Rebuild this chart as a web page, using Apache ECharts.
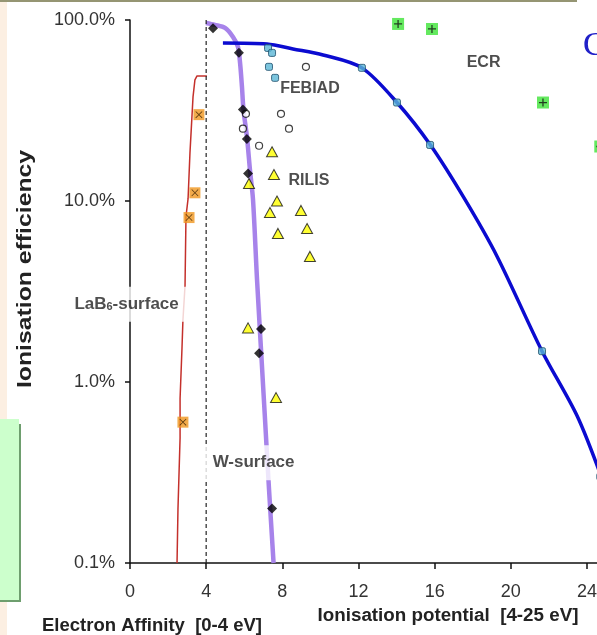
<!DOCTYPE html>
<html>
<head>
<meta charset="utf-8">
<script src="https://cdn.jsdelivr.net/npm/echarts@6/dist/echarts.min.js"></script>
<style>
html, body { margin: 0; padding: 0; background: #fff; overflow: hidden; width: 597px; height: 635px; }
#main { width: 640px; height: 635px; }
</style>
</head>
<body>
<div id="main"></div>
<script>
// ionisation efficiency (log) vs electron affinity / ionisation potential [eV]
const xTicks = [0, 4, 8, 12, 16, 20, 24];
const yTicks = [0.1, 1, 10, 100];

// curves
const lab6Curve = [[4.04, 49.1], [3.52, 49.1], [3.41, 46.7], [3.31, 37.6], [3.15, 18.5], [3.05, 10.3],
  [2.94, 8.2], [2.89, 3.4], [2.78, 2.2], [2.73, 1.53], [2.63, 0.81], [2.63, 0.49], [2.52, 0.2], [2.47, 0.1]];
const wCurve = [[3.99, 96.3], [4.46, 93.9], [4.99, 90.4], [5.41, 80.6], [5.67, 71.0], [5.78, 58.0],
  [5.88, 42.8], [5.96, 31.9], [6.14, 22.7], [6.30, 14.9], [6.46, 10.2], [6.67, 3.7], [6.88, 1.52],
  [7.09, 0.625], [7.30, 0.257], [7.54, 0.1]];
const febiadCurve = [[4.88, 74.7], [7.20, 73.7], [8.56, 69.2], [10.14, 64.1], [12.18, 54.4], [14.02, 35.0],
  [15.76, 20.5], [17.59, 10.2], [19.28, 4.94], [21.64, 1.48], [23.48, 0.65], [24.75, 0.30]];
const dividerLine = [[4, 0.1], [4, 100]];

// measured points
const lab6Points = [[3.62, 30.0], [3.41, 11.1], [3.10, 8.1], [2.78, 0.60]];
const wPoints = [[4.36, 90], [5.72, 66], [5.93, 32], [6.14, 22], [6.20, 14.2], [6.88, 1.96], [6.78, 1.44], [7.46, 0.2]];
const febiadPoints = [[7.25, 70.1], [7.46, 65.8], [7.30, 55.1], [7.62, 47.9], [12.18, 54.4], [14.02, 35.0],
  [15.76, 20.4], [21.64, 1.48], [24.7, 0.30]];
const febiadOpen = [[9.24, 55.1], [6.09, 30.3], [7.93, 30.3], [5.93, 25.1], [8.35, 25.1], [6.78, 20.2]];
const rilisPoints = [[7.46, 18.7], [7.56, 14.0], [6.25, 12.5], [7.72, 10.0], [7.35, 8.64], [8.98, 8.87],
  [7.77, 6.62], [9.30, 7.05], [9.45, 4.94], [6.20, 1.99], [7.67, 0.82]];
const ecrPoints = [[14.08, 95.1], [15.86, 89.2], [21.69, 35.0], [24.7, 20.0]];

// in-plot labels
const boxLabels = ['LaB{sub|6}-surface', 'W-surface'];
const boxLabelAt = [[-0.18, 2.69], [6.49, 0.358]];
const plainLabels = ['FEBIAD', 'RILIS', 'ECR'];
const plainLabelAt = [[9.45, 41.7], [9.40, 13.0], [18.57, 57.9]];

const font = '"Liberation Sans", Arial, sans-serif';
const crossPath = 'path://M0,0.8L0.8,0L5,4.2L9.2,0L10,0.8L5.8,5L10,9.2L9.2,10L5,5.8L0.8,10L0,9.2L4.2,5Z';
const plusPath = 'path://M4.2,0H5.8V4.2H10V5.8H5.8V10H4.2V5.8H0V4.2H4.2Z';

const chart = echarts.init(document.getElementById('main'));

const option = {
  animation: false,
  backgroundColor: '#fff',
  textStyle: { fontFamily: font },
  grid: { left: 130, top: 20, width: 476, height: 543 },
  xAxis: {
    type: 'value', min: 0, max: 25, interval: 4,
    axisLine: { show: true, onZero: false, lineStyle: { color: '#111', width: 1.5 } },
    axisTick: { show: true, length: 6, lineStyle: { color: '#111', width: 1.5 } },
    axisLabel: { margin: 20, fontSize: 18, color: '#333', formatter: v => xTicks.includes(v) ? String(v) : '' },
    splitLine: { show: false }
  },
  yAxis: {
    type: 'log', logBase: 10, min: yTicks[0], max: yTicks[yTicks.length - 1],
    axisLine: { show: true, onZero: false, lineStyle: { color: '#111', width: 1.5 } },
    axisTick: { show: true, length: 5, lineStyle: { color: '#111', width: 1.5 } },
    axisLabel: { margin: 15, fontSize: 18, color: '#333', formatter: v => v.toFixed(1) + '%' },
    splitLine: { show: false },
    minorTick: { show: false }
  },
  graphic: [
    { type: 'rect', silent: true, shape: { x: 0, y: 0, width: 7, height: 635 }, style: { fill: '#fcefe2' } },
    { type: 'rect', silent: true, shape: { x: 0, y: 0, width: 577, height: 2 }, style: { fill: '#959573' } },
    { type: 'rect', silent: true, shape: { x: 0, y: 419, width: 19, height: 181 }, style: { fill: '#ccffcc' } },
    { type: 'rect', silent: true, shape: { x: 19, y: 424, width: 2, height: 178 }, style: { fill: '#6e9e6e' } },
    { type: 'rect', silent: true, shape: { x: 0, y: 600, width: 21, height: 2 }, style: { fill: '#6e9e6e' } },
    { type: 'text', silent: true, x: 583, y: 46,
      style: { text: 'C', font: '34px "Liberation Serif", serif', fill: '#2020c8', verticalAlign: 'middle' } },
    // rotated y title, stretched along its length like the original
    { type: 'text', silent: true, x: 25, y: 269, rotation: Math.PI / 2, scaleX: 1.18,
      style: { text: 'Ionisation efficiency', font: 'bold 21px ' + font, fill: '#222', align: 'center', verticalAlign: 'middle' } },
    { type: 'text', silent: true, x: 152, y: 626,
      style: { text: 'Electron Affinity  [0-4 eV]', font: 'bold 18.5px ' + font, fill: '#222', align: 'center', verticalAlign: 'middle' } },
    { type: 'text', silent: true, x: 448, y: 616,
      style: { text: 'Ionisation potential  [4-25 eV]', font: 'bold 18.8px ' + font, fill: '#222', align: 'center', verticalAlign: 'middle' } }
  ],
  series: [
    { type: 'line', z: 2, data: lab6Curve, symbol: 'none', lineStyle: { color: '#c4302b', width: 1.5 } },
    { type: 'line', z: 2, data: wCurve, symbol: 'none', smooth: 0.3, lineStyle: { color: '#a783ea', width: 4.5 } },
    { type: 'line', z: 2, data: febiadCurve, symbol: 'none', smooth: 0.3, lineStyle: { color: '#0b0bd0', width: 3.5 } },
    { type: 'line', z: 2, data: dividerLine, symbol: 'none', lineStyle: { color: '#222', width: 1.2, type: [4, 3] } },
    { type: 'scatter', z: 4, data: febiadOpen, symbol: 'circle', symbolSize: 7,
      itemStyle: { color: '#fff', borderColor: '#111', borderWidth: 1.2 } },
    { type: 'scatter', z: 4, data: febiadPoints, symbol: 'roundRect', symbolSize: 7,
      itemStyle: { color: '#5bb6d6', borderColor: '#1d4d6a', borderWidth: 1 } },
    { type: 'scatter', z: 5, data: wPoints, symbol: 'diamond', symbolSize: 10, itemStyle: { color: '#000' } },
    { type: 'scatter', z: 4, data: rilisPoints, symbol: 'triangle', symbolSize: [11, 10],
      itemStyle: { color: '#ffff00', borderColor: '#111', borderWidth: 1 } },
    { type: 'scatter', z: 4, data: lab6Points, symbol: 'rect', symbolSize: 11, itemStyle: { color: '#f0961e' } },
    { type: 'scatter', z: 5, data: lab6Points, symbol: crossPath, symbolSize: 7, itemStyle: { color: '#3a2000' } },
    { type: 'scatter', z: 4, data: ecrPoints, symbol: 'rect', symbolSize: 12, itemStyle: { color: '#3de337' } },
    { type: 'scatter', z: 5, data: ecrPoints, symbol: plusPath, symbolSize: 8, itemStyle: { color: '#111' } },
    {
      type: 'scatter', z: 10, clip: false, symbolSize: 0, silent: true,
      data: boxLabels.map((t, i) => ({ value: boxLabelAt[i], name: t })),
      label: {
        show: true, position: 'inside', formatter: p => p.name,
        fontFamily: font, fontWeight: 'bold', fontSize: 17, color: '#222',
        backgroundColor: '#fff', padding: [9, 8],
        rich: { sub: { fontFamily: font, fontWeight: 'bold', fontSize: 11, color: '#222', padding: [6, 0, 0, 0] } }
      }
    },
    {
      type: 'scatter', z: 10, clip: false, symbolSize: 0, silent: true,
      data: plainLabels.map((t, i) => ({ value: plainLabelAt[i], name: t })),
      label: {
        show: true, position: 'inside', formatter: p => p.name,
        fontFamily: font, fontWeight: 'bold', fontSize: 16, color: '#222'
      }
    }
  ]
};

chart.setOption(option);
</script>
</body>
</html>
